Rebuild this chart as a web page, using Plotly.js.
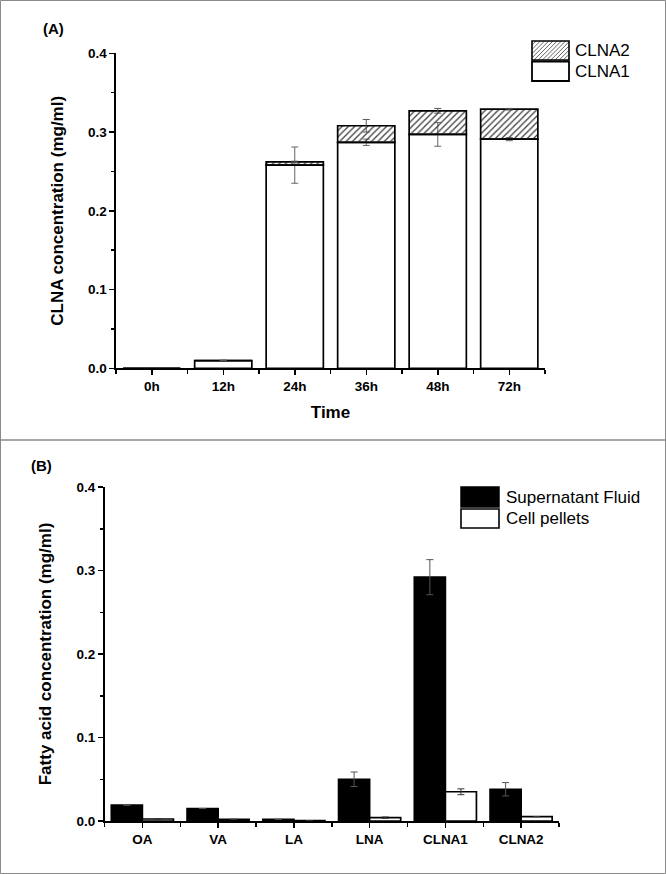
<!DOCTYPE html>
<html>
<head>
<meta charset="utf-8">
<script src="https://cdn.plot.ly/plotly-3.0.1.min.js"></script>
<style>html,body{margin:0;padding:0;background:#fff;}#chart{width:666px;height:874px;}</style>
</head>
<body>
<div id="chart"></div>
<script>
// ---------- Panel A data ----------
const timeLabels = ['0h', '12h', '24h', '36h', '48h', '72h'];
const clna1Values = [0, 0.0097, 0.258, 0.287, 0.297, 0.291];
const clna1Errors = [0, 0.0006, 0.023, 0.004, 0.015, 0.002];
const clna2Values = [0, 0, 0.004, 0.021, 0.030, 0.038];
const clna2Errors = [0, 0, 0.001, 0.008, 0.003, 0.001];
const seriesA = ['CLNA2', 'CLNA1'];

// ---------- Panel B data ----------
const fattyAcids = ['OA', 'VA', 'LA', 'LNA', 'CLNA1', 'CLNA2'];
const supernatantValues = [0.019, 0.015, 0.002, 0.050, 0.292, 0.038];
const supernatantErrors = [0, 0, 0, 0.0087, 0.021, 0.008];
const pelletValues = [0.0024, 0.002, 0.0005, 0.004, 0.035, 0.0052];
const pelletErrors = [0.0004, 0, 0, 0.0008, 0.0035, 0];
const seriesB = ['Supernatant Fluid', 'Cell pellets'];

const W = 666, H = 874;
const px = x => x / W;
const py = y => 1 - y / H;
const FONT = 'Liberation Sans, Arial, Helvetica, sans-serif';

const idxA = timeLabels.map((_, i) => i);
const idxB = fattyAcids.map((_, i) => i);
const boundsA = timeLabels.map((_, i) => i - 0.5).concat([timeLabels.length - 0.5]);
const boundsB = fattyAcids.map((_, i) => i - 0.5).concat([fattyAcids.length - 0.5]);

const outline = {color: '#000', width: 1.7};

const traces = [
  {
    type: 'bar', name: seriesA[1], x: idxA, y: clna1Values, width: 0.8,
    xaxis: 'x', yaxis: 'y',
    marker: {color: '#fff', line: outline},
    error_y: {type: 'data', array: clna1Errors, visible: true, color: '#666', thickness: 1, width: 3.5}
  },
  {
    type: 'bar', name: seriesA[0], x: idxA, y: clna2Values, base: clna1Values, width: 0.8,
    xaxis: 'x', yaxis: 'y',
    marker: {color: '#fff', line: outline,
      pattern: {shape: '/', size: 4.5, solidity: 0.3, fgcolor: '#444', bgcolor: 'rgba(0,0,0,0)'}},
    error_y: {type: 'data', array: clna2Errors, visible: true, color: '#555', thickness: 1, width: 3.5}
  },
  {
    type: 'bar', name: seriesB[0], x: idxB, y: supernatantValues, width: 0.41, offset: -0.41,
    xaxis: 'x2', yaxis: 'y2',
    marker: {color: '#000', line: outline},
    error_y: {type: 'data', array: supernatantErrors, visible: true, color: '#555', thickness: 1, width: 3.5}
  },
  {
    type: 'bar', name: seriesB[1], x: idxB, y: pelletValues, width: 0.41, offset: 0,
    xaxis: 'x2', yaxis: 'y2',
    marker: {color: '#fff', line: outline},
    error_y: {type: 'data', array: pelletErrors, visible: true, color: '#333', thickness: 1, width: 3.5}
  }
];

const tickFont = {family: FONT, size: 13.5, color: '#000', weight: 'bold'};
const titleFont = {family: FONT, size: 17, color: '#000', weight: 'bold'};

function xAxis(domain, anchor, labels, idx, bounds, title) {
  return {
    domain: domain, anchor: anchor, type: 'linear', range: [-0.5, labels.length - 0.5],
    tickmode: 'array', tickvals: idx, ticktext: labels,
    ticks: 'outside', ticklen: 5, tickwidth: 1.5, tickcolor: '#000',
    minor: {tickmode: 'array', tickvals: bounds, ticks: 'outside', ticklen: 4, tickwidth: 1.5, tickcolor: '#000'},
    showline: true, linecolor: '#000', linewidth: 1.8,
    showgrid: false, zeroline: false, tickfont: tickFont,
    title: title ? {text: title, font: titleFont, standoff: 13} : undefined,
    fixedrange: true
  };
}
function yAxis(domain, anchor, title) {
  return {
    domain: domain, anchor: anchor, range: [0, 0.4], dtick: 0.1, tick0: 0, tickformat: '.1f',
    ticks: 'outside', ticklen: 5, tickwidth: 1.5, tickcolor: '#000',
    minor: {dtick: 0.05, tick0: 0, ticks: 'outside', ticklen: 3, tickwidth: 1.5, tickcolor: '#000'},
    showline: true, linecolor: '#000', linewidth: 1.6,
    showgrid: false, zeroline: false, tickfont: tickFont,
    title: {text: title, font: titleFont, standoff: 20},
    fixedrange: true
  };
}

// hatch path for the legend swatch
function hatchPath(x0, y0, x1, y1, step) {
  let d = '';
  for (let c = x0 + y0 + step; c < x1 + y1; c += step) {
    const xa = Math.max(x0, c - y1), xb = Math.min(x1, c - y0);
    if (xb <= xa) continue;
    d += 'M' + px(xa) + ',' + py(c - xa) + 'L' + px(xb) + ',' + py(c - xb);
  }
  return d;
}

const shapes = [
  {type: 'rect', xref: 'paper', yref: 'paper', x0: px(0.5), x1: px(665.5), y0: py(0.5), y1: py(873.5),
   line: {color: '#8a8a8a', width: 1}, layer: 'below'},
  {type: 'line', xref: 'paper', yref: 'paper', x0: 0, x1: 1, y0: py(440), y1: py(440),
   line: {color: '#8a8a8a', width: 1.5}},
  // legend A
  {type: 'path', xref: 'paper', yref: 'paper', path: hatchPath(532, 41, 569, 60, 4.2), line: {color: '#555', width: 0.9}},
  {type: 'rect', xref: 'paper', yref: 'paper', x0: px(532), x1: px(569), y0: py(60), y1: py(41), line: {color: '#000', width: 1.6}},
  {type: 'rect', xref: 'paper', yref: 'paper', x0: px(532), x1: px(569), y0: py(81), y1: py(61.5), fillcolor: '#fff', line: {color: '#000', width: 1.8}},
  // legend B
  {type: 'rect', xref: 'paper', yref: 'paper', x0: px(461), x1: px(499), y0: py(507), y1: py(487), fillcolor: '#000', line: {color: '#000', width: 1.5}},
  {type: 'rect', xref: 'paper', yref: 'paper', x0: px(461), x1: px(499), y0: py(528), y1: py(509), fillcolor: '#fff', line: {color: '#000', width: 1.6}}
];

const legFont = {family: FONT, size: 17, color: '#000'};
const annotations = [
  {text: '(A)', x: px(41), y: py(29), xref: 'paper', yref: 'paper', xanchor: 'left', yanchor: 'middle', showarrow: false,
   font: {family: FONT, size: 15, color: '#000', weight: 'bold'}},
  {text: '(B)', x: px(29), y: py(465), xref: 'paper', yref: 'paper', xanchor: 'left', yanchor: 'middle', showarrow: false,
   font: {family: FONT, size: 15, color: '#000', weight: 'bold'}},
  {text: seriesA[0], x: px(573), y: py(50.5), xref: 'paper', yref: 'paper', xanchor: 'left', yanchor: 'middle', showarrow: false, font: legFont},
  {text: seriesA[1], x: px(573), y: py(71.5), xref: 'paper', yref: 'paper', xanchor: 'left', yanchor: 'middle', showarrow: false, font: legFont},
  {text: seriesB[0], x: px(504), y: py(497), xref: 'paper', yref: 'paper', xanchor: 'left', yanchor: 'middle', showarrow: false, font: legFont},
  {text: seriesB[1], x: px(504), y: py(518.5), xref: 'paper', yref: 'paper', xanchor: 'left', yanchor: 'middle', showarrow: false, font: legFont}
];

const layout = {
  width: W, height: H, autosize: false,
  margin: {l: 0, r: 0, t: 0, b: 0, pad: 0},
  paper_bgcolor: '#fff', plot_bgcolor: '#fff',
  showlegend: false, barmode: 'overlay',
  font: {family: FONT, color: '#000'},
  xaxis: xAxis([px(116), px(545)], 'y', timeLabels, idxA, boundsA, 'Time'),
  yaxis: yAxis([py(368.3), py(53.3)], 'x', 'CLNA concentration (mg/ml)'),
  xaxis2: xAxis([px(104.5), px(559)], 'y2', fattyAcids, idxB, boundsB, null),
  yaxis2: yAxis([py(821), py(487)], 'x2', 'Fatty acid concentration (mg/ml)'),
  shapes: shapes,
  annotations: annotations
};

Plotly.newPlot('chart', traces, layout, {staticPlot: true, displayModeBar: false});
</script>
</body>
</html>
